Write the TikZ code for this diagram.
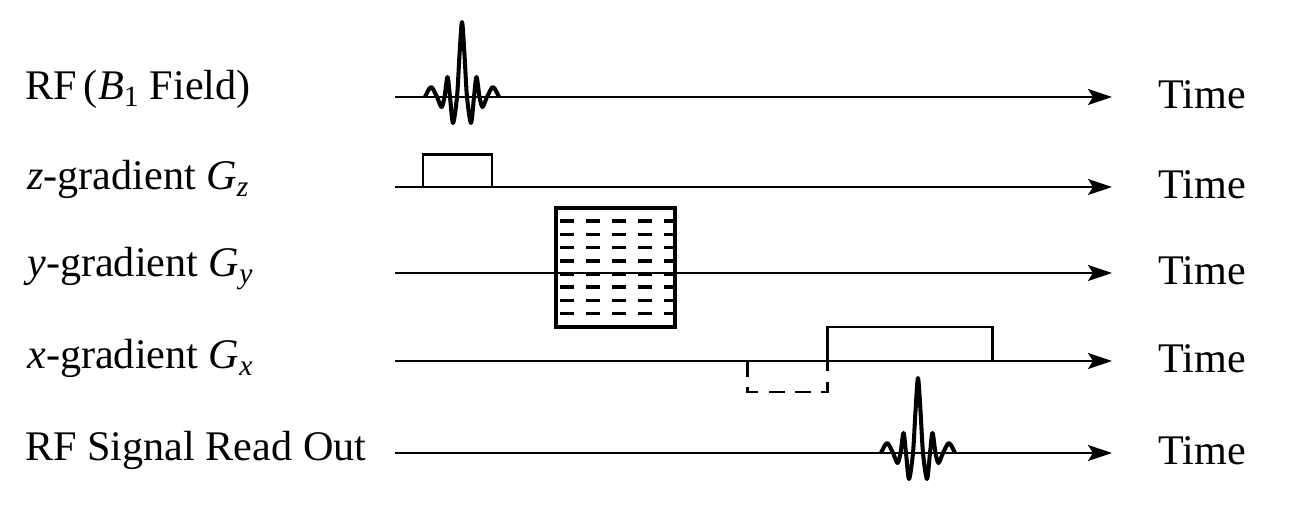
\documentclass[tikz,border=0pt]{standalone}
\usepackage{fontspec}
\setmainfont{Liberation Serif}
\usepackage{tikz}
\usetikzlibrary{arrows.meta}

\tikzset{
  sincpulse/.pic={
    \draw[wave] plot[smooth] coordinates {(-37,0) (-31,-10) (-25,0)
      (-20.5,10) (-17.5,0) (-14.5,-20) (-12,0) (-9,26) (-5,0)
      (-2.5,-42) (0,-75) (2.5,-42) (5,0) (9,26) (12,0) (14.5,-20)
      (17.5,0) (20.5,10) (25,0) (31,-10) (37,0)};
  }
}

\begin{document}
\begin{tikzpicture}[
  x=0.2mm, y=-0.2mm,
  timeline/.style={line width=1.4pt, -{Stealth[length=4.8mm, width=3.2mm, inset=1mm]}},
  wave/.style={line width=2.3pt, line join=round},
  pulsebox/.style={line width=1.7pt},
  pulseneg/.style={pulsebox, dash pattern=on 9pt off 6pt},
  encbox/.style={line width=2pt},
  hatch/.style={line width=2pt, dash pattern=on 8pt off 6.8pt},
  lbl/.style={anchor=base west, inner sep=0pt, font=\fontsize{24}{28}\selectfont},
  tlbl/.style={lbl},
]
\useasboundingbox (0,0) rectangle (1293,531);

% row labels
\node[lbl] (lrf) at (25,100) {RF\,(\textit{B}\textsubscript{1} Field)};
\node[lbl] (lgz) at (27,190) {\textit{z}-gradient \textit{G}\textsubscript{\textit{z}}};
\node[lbl] (lgy) at (27,277) {\textit{y}-gradient \textit{G}\textsubscript{\textit{y}}};
\node[lbl] (lgx) at (27,369) {\textit{x}-gradient \textit{G}\textsubscript{\textit{x}}};
\node[lbl] (lro) at (25,461) {RF Signal Read Out};

% time axes
\coordinate (rf0) at (395,97);  \coordinate (rf1) at (1112,97);
\coordinate (gz0) at (395,187); \coordinate (gz1) at (1112,187);
\coordinate (gy0) at (395,273); \coordinate (gy1) at (1112,273);
\coordinate (gx0) at (395,361); \coordinate (gx1) at (1112,361);
\coordinate (ro0) at (395,453); \coordinate (ro1) at (1112,453);
\draw[timeline] (rf0) -- (rf1);
\draw[timeline] (gz0) -- (gz1);
\draw[timeline] (gy0) -- (gy1);
\draw[timeline] (gx0) -- (gx1);
\draw[timeline] (ro0) -- (ro1);
\node[tlbl] (trf) at (1158,109) {Time};
\node[tlbl] (tgz) at (1158,199) {Time};
\node[tlbl] (tgy) at (1158,285) {Time};
\node[tlbl] (tgx) at (1158,373) {Time};
\node[tlbl] (tro) at (1158,465) {Time};

% RF excitation and echo
\pic at (462,97) {sincpulse};
\pic at (918,453) {sincpulse};

% slice select
\draw[pulsebox] (423,187) |- (492,155) -- (492,187);

% phase encoding table
\draw[encbox] (556,208) rectangle (675,327);
\foreach \k in {1,...,8}
  \draw[hatch] (560,{208+\k*13.2}) -- (674,{208+\k*13.2});

% frequency encoding
\draw[pulseneg] (747,361) |- (827,392) -- (827,361);
\draw[pulsebox] (827,361) |- (992,327) -- (992,361);
\end{tikzpicture}
\end{document}
